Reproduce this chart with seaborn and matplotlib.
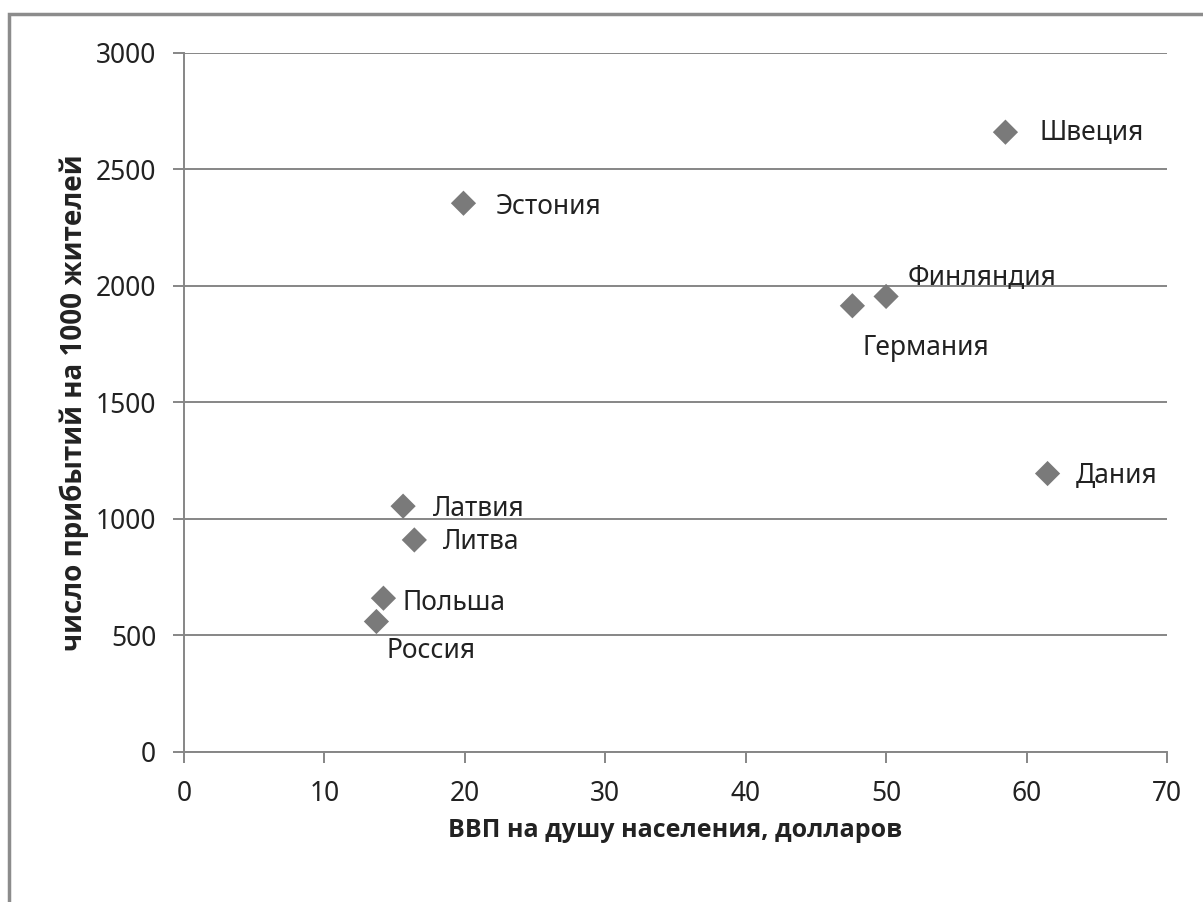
import matplotlib

matplotlib.use("Agg")
import matplotlib.pyplot as plt
import pandas as pd
import seaborn as sns
from matplotlib.patches import Rectangle


countries = ["Швеция", "Эстония", "Финляндия", "Германия", "Дания",
             "Латвия", "Литва", "Польша", "Россия"]
gdp = [58.5, 19.9, 50.0, 47.6, 61.5, 15.6, 16.4, 14.2, 13.7]
arrivals = [2660, 2355, 1955, 1915, 1195, 1055, 910, 660, 560]

x_ticks = [0, 10, 20, 30, 40, 50, 60, 70]
y_ticks = [0, 500, 1000, 1500, 2000, 2500, 3000]

x_label = "ВВП на душу населения, долларов"
y_label = "число прибытий на 1000 жителей"

# label offsets from the marker, in pixels (dx, dy)
label_offsets = {
    "Швеция": (34, 0),
    "Эстония": (32, -4),
    "Финляндия": (22, 18),
    "Германия": (10, -42),
    "Дания": (28, -2),
    "Латвия": (30, -3),
    "Литва": (29, -2),
    "Польша": (19, -5),
    "Россия": (10, -29),
}

GRID = "#868686"
MARKER = "#7a7a7a"
TEXT = "#222222"
FONT = 19


def main():
    sns.set_theme(style="white")
    plt.rcParams["font.family"] = ["Noto Sans", "DejaVu Sans"]

    df = pd.DataFrame({"country": countries, "gdp": gdp, "arrivals": arrivals})

    fig = plt.figure(figsize=(12.03, 9.02), dpi=100)
    ax = fig.add_axes([0.153, 0.1663, 0.817, 0.775])

    sns.scatterplot(data=df, x="gdp", y="arrivals", marker="D", s=165,
                    color=MARKER, edgecolor="none", ax=ax, zorder=3)

    for name, xv, yv in zip(countries, gdp, arrivals):
        dx, dy = label_offsets[name]
        ax.annotate(name, (xv, yv), xytext=(dx, dy), textcoords="offset pixels",
                    ha="left", va="center", fontsize=FONT, color=TEXT, zorder=4)

    ax.set_xlim(0, 70)
    ax.set_ylim(0, 3000)
    ax.set_xticks(x_ticks)
    ax.set_yticks(y_ticks)
    ax.yaxis.grid(True, color=GRID, linewidth=1.4)
    ax.xaxis.grid(False)
    ax.set_axisbelow(True)

    for side in ("top", "right"):
        ax.spines[side].set_visible(False)
    for side in ("left", "bottom"):
        ax.spines[side].set_color(GRID)
        ax.spines[side].set_linewidth(1.4)

    ax.tick_params(axis="both", direction="out", length=8, width=1.4,
                   color=GRID, labelsize=FONT, labelcolor=TEXT)
    ax.tick_params(axis="x", pad=12, bottom=True)
    ax.tick_params(axis="y", pad=12, left=True)

    label_font = dict(family=["Open Sans", "DejaVu Sans"], fontweight="bold", color=TEXT)
    ax.set_xlabel(x_label, fontsize=FONT - 1, **label_font)
    ax.set_ylabel(y_label, fontsize=FONT + 1, **label_font)
    ax.xaxis.set_label_coords(0.5, -0.095)
    ax.yaxis.set_label_coords(-0.097, 0.5)

    # frame around the chart area: only top and left edges fall inside the image
    fig.patches.append(Rectangle((9, -100), 1300, 902 - 14 + 100, transform=None,
                                 fill=False, edgecolor="#8c8c8c", linewidth=2.5))

    fig.savefig("out.png", dpi=100, facecolor="white")
    plt.close(fig)


if __name__ == "__main__":
    main()
